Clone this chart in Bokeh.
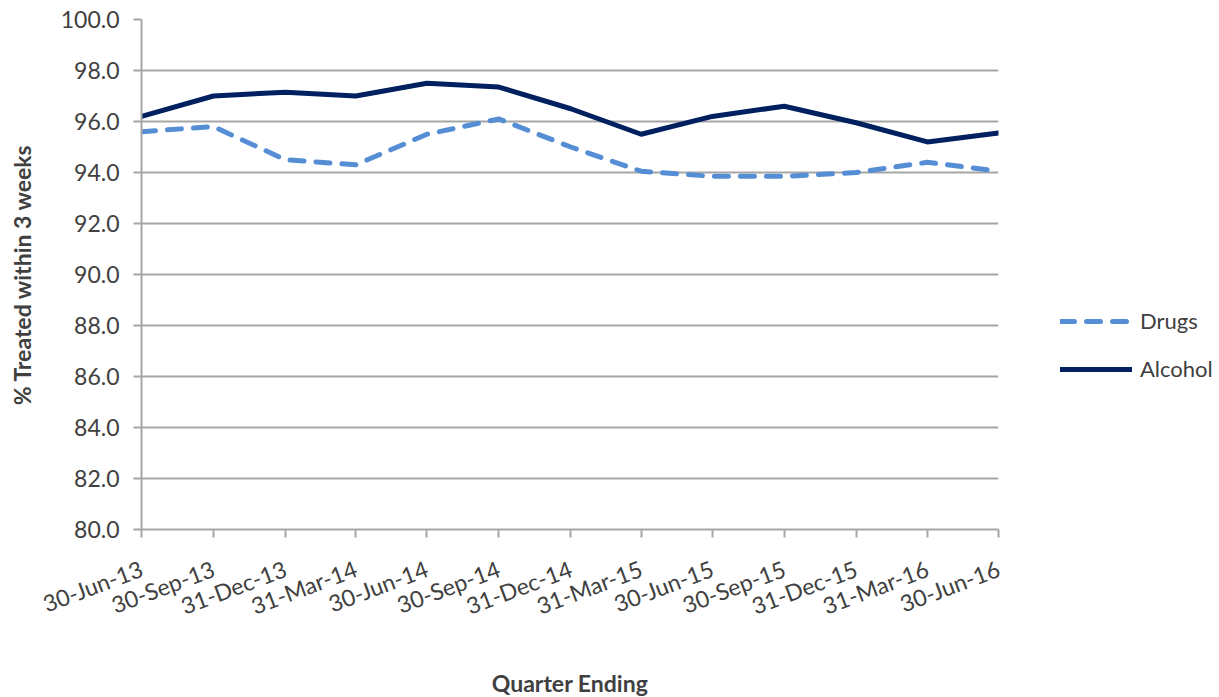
import pandas as pd
from bokeh.plotting import figure
from bokeh.models import (FixedTicker, DatetimeTickFormatter, Legend, LegendItem,
                          Range1d, NumeralTickFormatter, ColumnDataSource)
from bokeh.embed import file_html
from bokeh.resources import INLINE

quarters = ["2013-06-30", "2013-09-30", "2013-12-31", "2014-03-31", "2014-06-30",
            "2014-09-30", "2014-12-31", "2015-03-31", "2015-06-30", "2015-09-30",
            "2015-12-31", "2016-03-31", "2016-06-30"]
drugs = [95.6, 95.8, 94.5, 94.3, 95.5, 96.1, 95.0, 94.05, 93.85, 93.85, 94.0, 94.4, 94.05]
alcohol = [96.2, 97.0, 97.15, 97.0, 97.5, 97.35, 96.5, 95.5, 96.2, 96.6, 95.95, 95.2, 95.55]
y_ticks = [80, 82, 84, 86, 88, 90, 92, 94, 96, 98, 100]

dates = pd.to_datetime(quarters)
src = ColumnDataSource(dict(x=dates, drugs=drugs, alcohol=alcohol))

FONT = "Lato"
TXT = "#404040"
GRID = "#a6a6a6"

p = figure(frame_width=857, frame_height=510, x_axis_type="datetime",
           output_backend="svg", toolbar_location=None,
           min_border_left=141, min_border_right=0,
           min_border_top=19, min_border_bottom=150)
p.x_range = Range1d(dates[0], dates[-1])
p.y_range = Range1d(80, 100)
p.outline_line_color = None

r_drugs = p.line("x", "drugs", source=src, line_color="#558ed5", line_width=5,
                 line_dash="14 12", line_cap="round", line_join="round")
r_alc = p.line("x", "alcohol", source=src, line_color="#002060", line_width=5,
               line_cap="round", line_join="round")

# axes
p.xaxis.ticker = FixedTicker(ticks=[d.value // 10**6 for d in dates])
fmt = "%d-%b-%y"
p.xaxis.formatter = DatetimeTickFormatter(
    microseconds=fmt, milliseconds=fmt, seconds=fmt, minsec=fmt, minutes=fmt,
    hourmin=fmt, hours=fmt, days=fmt, months=fmt, years=fmt)
p.xaxis.major_label_orientation = 0.36
p.yaxis.ticker = FixedTicker(ticks=y_ticks)
p.yaxis.formatter = NumeralTickFormatter(format="0.0")

for ax in (p.xaxis, p.yaxis):
    ax.axis_line_color = GRID
    ax.axis_line_width = 2
    ax.major_tick_line_color = GRID
    ax.major_tick_line_width = 2
    ax.major_tick_out = 8
    ax.major_tick_in = 0
    ax.minor_tick_line_color = None
    ax.major_label_text_font = FONT
    ax.major_label_text_font_size = "23px"
    ax.major_label_text_color = TXT
    ax.axis_label_text_font = FONT
    ax.axis_label_text_font_size = "23px"
    ax.axis_label_text_font_style = "bold"
    ax.axis_label_text_color = TXT

p.xaxis.axis_label = "Quarter Ending"
p.xaxis.axis_label_standoff = 33
p.xaxis.major_label_standoff = 30
p.yaxis.axis_label = "% Treated within 3 weeks"
p.yaxis.axis_label_standoff = 22
p.yaxis.major_label_standoff = 14

p.xgrid.grid_line_color = None
p.ygrid.grid_line_color = GRID
p.ygrid.grid_line_width = 2

legend = Legend(items=[LegendItem(label="Drugs", renderers=[r_drugs]),
                       LegendItem(label="Alcohol", renderers=[r_alc])],
                location=(62, 147), orientation="vertical",
                glyph_width=72, glyph_height=22, label_height=22,
                spacing=21, padding=0, margin=0, label_standoff=8,
                label_text_font=FONT, label_text_font_size="22px",
                label_text_color=TXT,
                border_line_alpha=0, background_fill_alpha=0)
p.add_layout(legend, "right")

open("out.html", "w").write(file_html(p, INLINE))
